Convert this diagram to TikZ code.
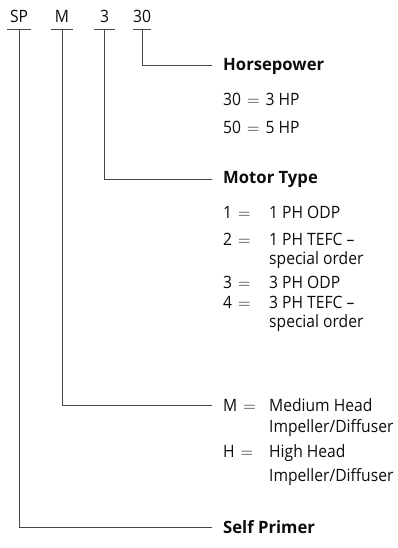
\documentclass[tikz,border=0pt]{standalone}
\usepackage{fontspec}
\setmainfont{Open Sans}[FakeStretch=0.92, BoldFeatures={FakeStretch=0.98}]
\usetikzlibrary{positioning}
\tikzset{
    %Define style for the code letters
    codenode/.style={
             anchor=base, inner xsep=0pt, inner ysep=6pt,
             text depth=0pt, text=black!95,
             font=\fontsize{17}{20}\selectfont},
    %Define style for the boxes the leaders run into
    tagnode/.style={
             anchor=west, inner xsep=11pt, inner ysep=0pt,
             text=black!95,
             font=\fontsize{17}{20}\selectfont},
    headnode/.style={
             tagnode,
             font=\bfseries\fontsize{17}{20}\selectfont},
    itemnode/.style={
             anchor=west, inner sep=0pt,
             text=black!95,
             font=\fontsize{17}{20}\selectfont},
    % Define leader style
    leadline/.style={
            draw=black!72,
            line width=1pt}
}
\newcommand{\eqsign}{\hspace{6pt}$=$\hspace{6pt}}
\newcommand{\keyval}[2]{\makebox[46pt][l]{#1\eqsign}#2}

\begin{document}
\begin{tikzpicture}[x=1pt, y=-1pt]
 \useasboundingbox (0,0) rectangle (398,548);
 % code letters
 \node[codenode, minimum width=24pt] (sp) at (19,23) {SP};
 \node[codenode, minimum width=22pt] (med) at (62,23) {M};
 \node[codenode, minimum width=21pt] (mot) at (104.5,23) {3};
 \node[codenode, minimum width=14pt] (hp) at (142,23) {30};
 % horsepower
 \node[headnode] (hphead) at (212,66) {Horsepower};
 \node[itemnode] (hpa) at (223,99) {30\eqsign3 HP};
 \node[itemnode] (hpb) at (223,127) {50\eqsign5 HP};
 % motor type
 \node[headnode] (mothead) at (212,179) {Motor Type};
 \node[itemnode] (mota) at (223,212) {\keyval{1}{1 PH ODP}};
 \node[itemnode] (motb) at (223,239) {\keyval{2}{1 PH TEFC --}};
 \node[itemnode] (motbb) at (269,260) {special order};
 \node[itemnode] (motc) at (223,282) {\keyval{3}{3 PH ODP}};
 \node[itemnode] (motd) at (223,302) {\keyval{4}{3 PH TEFC --}};
 \node[itemnode] (motdd) at (269,323) {special order};
 % impeller
 \node[tagnode] (meda) at (212,405) {\keyval{M}{Medium Head}};
 \node[itemnode] (medaa) at (269,428) {Impeller/Diffuser};
 \node[itemnode] (medb) at (223,453) {\keyval{H}{High Head}};
 \node[itemnode] (medbb) at (269,477) {Impeller/Diffuser};
 % self primer
 \node[headnode] (self) at (212,527) {Self Primer};
 % underlines and leaders
 \foreach \c in {sp,med,mot,hp}
   \draw[leadline] (\c.south west) -- (\c.south east);
 \draw[leadline] (hp.south) |- (hphead.west);
 \draw[leadline] (mot.south) |- (mothead.west);
 \draw[leadline] (med.south) |- (meda.west);
 \draw[leadline] (sp.south) |- (self.west);
\end{tikzpicture}
\end{document}
